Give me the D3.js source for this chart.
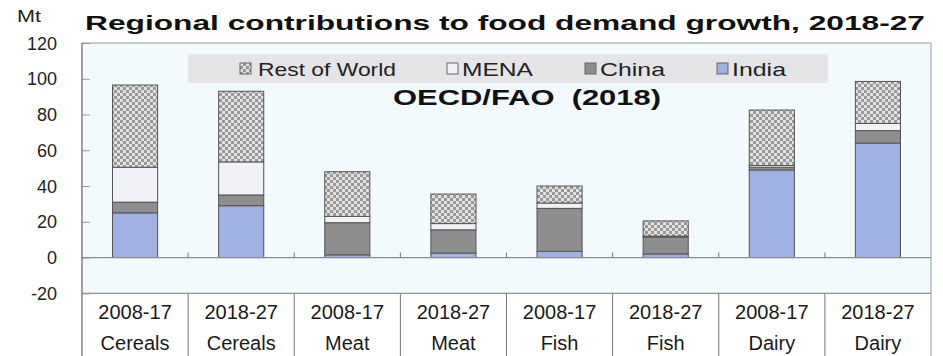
<!DOCTYPE html>
<html>
<head>
<meta charset="utf-8">
<script src="https://cdn.jsdelivr.net/npm/d3@7"></script>
<style>
  html, body { margin: 0; padding: 0; background: #ffffff; }
  svg { display: block; font-family: "Liberation Sans", Arial, sans-serif; }
</style>
</head>
<body>
<svg id="chart" width="943" height="356"></svg>
<script>
// Commodity groups and projection periods for each bar
const categories = ["Cereals", "Cereals", "Meat", "Meat", "Fish", "Fish", "Dairy", "Dairy"];
const periods = ["2008-17", "2018-27", "2008-17", "2018-27", "2008-17", "2018-27", "2008-17", "2018-27"];

// Contribution to demand growth by region (Mt)
const india = [25, 29, 1.5, 2.5, 3.5, 2, 49, 64];
const china = [6, 6, 18, 13, 24, 9.5, 1.5, 7];
const mena = [19.5, 18.5, 3.5, 3.5, 3, 0.5, 1, 4];
const restOfWorld = [46, 39.5, 25, 16.5, 9.5, 8.5, 31, 23.5];

// Y axis ticks
const yTicks = [-20, 0, 20, 40, 60, 80, 100, 120];

const seriesNames = ["India", "China", "MENA", "Rest of World"];
const seriesValues = [india, china, mena, restOfWorld];

const svg = d3.select("#chart");
const W = 943, H = 356;
const plot = { left: 82, right: 931, top: 43, bottom: 293.3 };

// Pattern for the "Rest of World" segments
const defs = svg.append("defs");
const pat = defs.append("pattern")
  .attr("id", "rowPattern")
  .attr("patternUnits", "userSpaceOnUse")
  .attr("width", 6).attr("height", 6);
pat.append("rect").attr("width", 6).attr("height", 6).attr("fill", "#e2e2e2");
pat.append("rect").attr("x", 0).attr("y", 0).attr("width", 3).attr("height", 3).attr("fill", "#989898");
pat.append("rect").attr("x", 3).attr("y", 3).attr("width", 3).attr("height", 3).attr("fill", "#989898");

const fills = {
  "India": "#9fb2e3",
  "China": "#8e8e8e",
  "MENA": "#f1f2f7",
  "Rest of World": "url(#rowPattern)"
};

// Table rows: one object per bar
const keys = categories.map((c, i) => periods[i] + " " + c);
const rows = keys.map((k, i) => {
  const r = { key: k, category: categories[i], period: periods[i] };
  seriesNames.forEach((s, j) => { r[s] = seriesValues[j][i]; });
  return r;
});

const stacked = d3.stack().keys(seriesNames)(rows);

const x = d3.scaleBand().domain(keys).range([plot.left, plot.right]).padding(0);
const y = d3.scaleLinear().domain([-20, 120]).range([plot.bottom, plot.top]);
const barW = x.bandwidth() * 0.425;

// Plot background
svg.append("rect")
  .attr("x", plot.left).attr("y", plot.top)
  .attr("width", plot.right - plot.left).attr("height", plot.bottom - plot.top)
  .attr("fill", "#f3fafd");

// Title
svg.append("text")
  .attr("x", 85).attr("y", 30)
  .attr("font-size", 21).attr("font-weight", "bold").attr("fill", "#111")
  .attr("textLength", 840).attr("lengthAdjust", "spacingAndGlyphs")
  .text("Regional contributions to food demand growth, 2018-27");

// Unit label
svg.append("text")
  .attr("x", 17).attr("y", 22)
  .attr("font-size", 17).attr("fill", "#222")
  .attr("textLength", 24).attr("lengthAdjust", "spacingAndGlyphs")
  .text("Mt");

// Legend box
svg.append("rect")
  .attr("x", 188).attr("y", 54).attr("width", 640).attr("height", 29)
  .attr("fill", "#e5e5e7");

const legendItems = [
  { name: "Rest of World", sx: 240, tx: 258, tw: 138 },
  { name: "MENA", sx: 447, tx: 462, tw: 71 },
  { name: "China", sx: 585, tx: 600, tw: 65 },
  { name: "India", sx: 717, tx: 732, tw: 54 }
];
const lg = svg.append("g");
legendItems.forEach(it => {
  lg.append("rect")
    .attr("x", it.sx).attr("y", 63).attr("width", 11).attr("height", 11)
    .attr("fill", fills[it.name]).attr("stroke", "#666").attr("stroke-width", 1);
  lg.append("text")
    .attr("x", it.tx).attr("y", 76)
    .attr("font-size", 19).attr("fill", "#222")
    .attr("textLength", it.tw).attr("lengthAdjust", "spacingAndGlyphs")
    .text(it.name);
});

// Source note inside the plot
svg.append("text")
  .attr("x", 527).attr("y", 105)
  .attr("text-anchor", "middle")
  .attr("font-size", 22).attr("font-weight", "bold").attr("fill", "#111")
  .attr("textLength", 268).attr("lengthAdjust", "spacingAndGlyphs")
  .text("OECD/FAO\u00a0 (2018)");

// Stacked bars
const barsG = svg.append("g");
stacked.forEach(layer => {
  barsG.selectAll(null)
    .data(layer)
    .join("rect")
    .attr("x", d => x(d.data.key) + (x.bandwidth() - barW) / 2)
    .attr("y", d => y(d[1]))
    .attr("width", barW)
    .attr("height", d => Math.max(0, y(d[0]) - y(d[1])))
    .attr("fill", fills[layer.key])
    .attr("stroke", "#555")
    .attr("stroke-width", 1);
});

// Zero line
svg.append("line")
  .attr("x1", plot.left).attr("x2", plot.right)
  .attr("y1", y(0)).attr("y2", y(0))
  .attr("stroke", "#8a8a8a").attr("stroke-width", 1.2);

// Small category ticks on the zero line
svg.append("g").selectAll("line")
  .data(keys.slice(1))
  .join("line")
  .attr("x1", d => x(d)).attr("x2", d => x(d))
  .attr("y1", y(0)).attr("y2", y(0) - 5)
  .attr("stroke", "#777");

// Plot frame: top and right edges, bottom line
svg.append("line")
  .attr("x1", plot.left).attr("x2", plot.right).attr("y1", plot.top).attr("y2", plot.top)
  .attr("stroke", "#999");
svg.append("line")
  .attr("x1", plot.right).attr("x2", plot.right).attr("y1", plot.top).attr("y2", H)
  .attr("stroke", "#999");
svg.append("line")
  .attr("x1", plot.left).attr("x2", plot.right).attr("y1", plot.bottom).attr("y2", plot.bottom)
  .attr("stroke", "#777");

// Y axis with inward ticks
const yAxis = d3.axisRight(y).tickValues(yTicks).tickSize(8).tickFormat("");
const yg = svg.append("g").attr("transform", `translate(${plot.left},0)`).call(yAxis);
yg.select(".domain").remove();
yg.selectAll(".tick line").attr("stroke", "#999");
svg.append("line")
  .attr("x1", plot.left).attr("x2", plot.left).attr("y1", plot.top).attr("y2", H)
  .attr("stroke", "#666").attr("stroke-width", 1.2);

// Y tick labels
svg.append("g").selectAll("text")
  .data(yTicks)
  .join("text")
  .attr("x", 57).attr("y", d => y(d) + 6.5)
  .attr("text-anchor", "end")
  .attr("font-size", 18).attr("fill", "#222")
  .text(d => d);

// Category table below the plot
svg.append("g").selectAll("line")
  .data(keys.slice(1))
  .join("line")
  .attr("x1", d => x(d)).attr("x2", d => x(d))
  .attr("y1", plot.bottom).attr("y2", H)
  .attr("stroke", "#777");

const labG = svg.append("g").attr("font-size", 20).attr("fill", "#1a1a1a").attr("text-anchor", "middle");
labG.selectAll("text.period")
  .data(rows)
  .join("text")
  .attr("class", "period")
  .attr("x", d => x(d.key) + x.bandwidth() / 2)
  .attr("y", 319)
  .text(d => d.period);
labG.selectAll("text.cat")
  .data(rows)
  .join("text")
  .attr("class", "cat")
  .attr("x", d => x(d.key) + x.bandwidth() / 2)
  .attr("y", 350)
  .text(d => d.category);
</script>
</body>
</html>
